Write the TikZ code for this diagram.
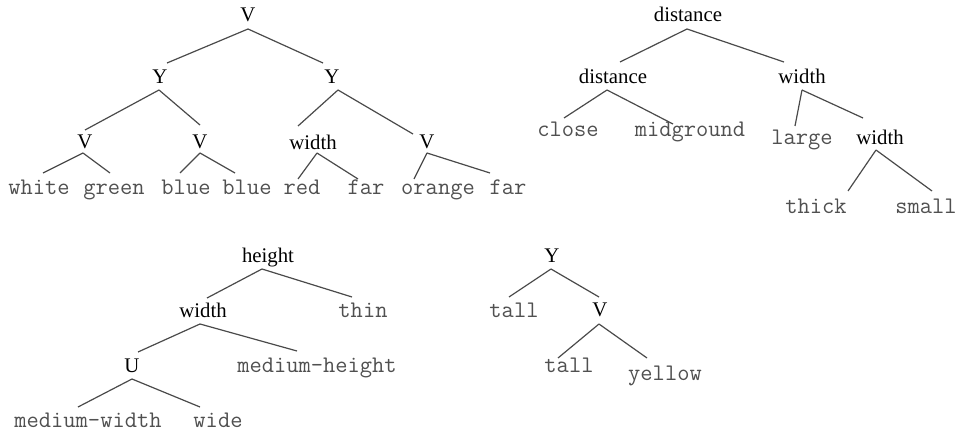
\documentclass[tikz,border=0pt]{standalone}
\usepackage{fontspec}
\setmainfont{Liberation Serif}
\definecolor{leafgray}{HTML}{505050}
\definecolor{edgegray}{HTML}{4A4A4A}
% edge from parent base (with offset) to child base (with offset)
\newcommand\treelink[4]{\draw[branch] ([shift={#2}]#1.base) -- ([shift={#4}]#3.base);}
\begin{document}
\begin{tikzpicture}[x=1pt,y=-1pt,
  inner/.style={anchor=base,inner sep=0pt,font=\fontsize{20.8}{21}\selectfont},
  leaf/.style={anchor=base,inner sep=0pt,text=leafgray,font=\fontsize{23.8}{24}\selectfont\ttfamily},
  branch/.style={draw=edgegray,line width=1.2pt}]
\useasboundingbox (0,0) rectangle (959,433);

% ---- tree 1
\node[inner] (a0) at (248,22) {V};
\node[inner] (a1) at (160,84) {Y};
\node[inner] (a2) at (332,84) {Y};
\node[inner] (a3) at (85,149) {V};
\node[inner] (a4) at (200,149) {V};
\node[inner] (a5) at (313,150) {width};
\node[inner] (a6) at (427,149) {V};
\node[leaf] (l1) at (39,194) {white};
\node[leaf] (l2) at (114,194) {green};
\node[leaf] (l3) at (186,194) {blue};
\node[leaf] (l4) at (247,194) {blue};
\node[leaf] (l5) at (302,194) {red};
\node[leaf] (l6) at (366,194) {far};
\node[leaf] (l7) at (438,194) {orange};
\node[leaf] (l8) at (508,194) {far};
\treelink{a0}{(0,7)}{a1}{(7,-21)}
\treelink{a0}{(0,7)}{a2}{(-9,-21)}
\treelink{a1}{(-1,6)}{a3}{(0,-19)}
\treelink{a1}{(-1,6)}{a4}{(0,-24)}
\treelink{a2}{(6,6)}{a5}{(-15,-24)}
\treelink{a2}{(6,6)}{a6}{(-14,-15)}
\treelink{a3}{(-2,4)}{l1}{(4,-21)}
\treelink{a3}{(-2,4)}{l2}{(-4,-21)}
\treelink{a4}{(0,4)}{l3}{(-6,-21)}
\treelink{a4}{(0,4)}{l4}{(-12,-21)}
\treelink{a5}{(4,3)}{l5}{(-4,-15)}
\treelink{a5}{(4,3)}{l6}{(-8,-15)}
\treelink{a6}{(0,4)}{l7}{(-24,-15)}
\treelink{a6}{(0,4)}{l8}{(-18,-21)}

% ---- tree 2
\node[inner] (b0) at (688,22) {distance};
\node[inner] (b1) at (613,84) {distance};
\node[inner] (b2) at (802,84) {width};
\node[leaf] (m1) at (568,137) {close};
\node[leaf] (m2) at (690,137) {midground};
\node[leaf] (m3) at (802,145) {large};
\node[inner] (b3) at (880,145) {width};
\node[leaf] (m4) at (816,214) {thick};
\node[leaf] (m5) at (926,214) {small};
\treelink{b0}{(-1,7)}{b1}{(7,-22)}
\treelink{b0}{(-1,7)}{b2}{(-18,-22)}
\treelink{b1}{(-6,6)}{m1}{(-4,-19)}
\treelink{b1}{(-6,6)}{m2}{(-17,-13)}
\treelink{b2}{(0,6)}{m3}{(-7,-19)}
\treelink{b2}{(0,6)}{b3}{(-17,-27)}
\treelink{b3}{(-4,5)}{m4}{(32,-23)}
\treelink{b3}{(-4,5)}{m5}{(6,-23)}

% ---- tree 3
\node[inner] (c0) at (268,262) {height};
\node[inner] (c1) at (203,317) {width};
\node[leaf] (n1) at (363,317) {thin};
\node[inner] (c2) at (132,372) {U};
\node[leaf] (n2) at (317,372) {medium-height};
\node[leaf] (n3) at (88,427) {medium-width};
\node[leaf] (n4) at (218,427) {wide};
\treelink{c0}{(-6,7)}{c1}{(4,-19)}
\treelink{c0}{(-6,7)}{n1}{(-11,-20)}
\treelink{c1}{(-3,7)}{c2}{(6,-20)}
\treelink{c1}{(-3,7)}{n2}{(-20,-21)}
\treelink{c2}{(0,7)}{n3}{(-10,-20)}
\treelink{c2}{(0,7)}{n4}{(-18,-20)}

% ---- tree 4
\node[inner] (d0) at (552,262) {Y};
\node[leaf] (p1) at (514,317) {tall};
\node[inner] (d1) at (600,316) {V};
\node[leaf] (p2) at (569,372) {tall};
\node[leaf] (p3) at (665,380) {yellow};
\treelink{d0}{(-1,7)}{p1}{(-5,-20)}
\treelink{d0}{(-1,7)}{d1}{(-1,-19)}
\treelink{d1}{(-1,8)}{p2}{(-11,-14)}
\treelink{d1}{(-1,8)}{p3}{(-18,-22)}
\end{tikzpicture}
\end{document}
